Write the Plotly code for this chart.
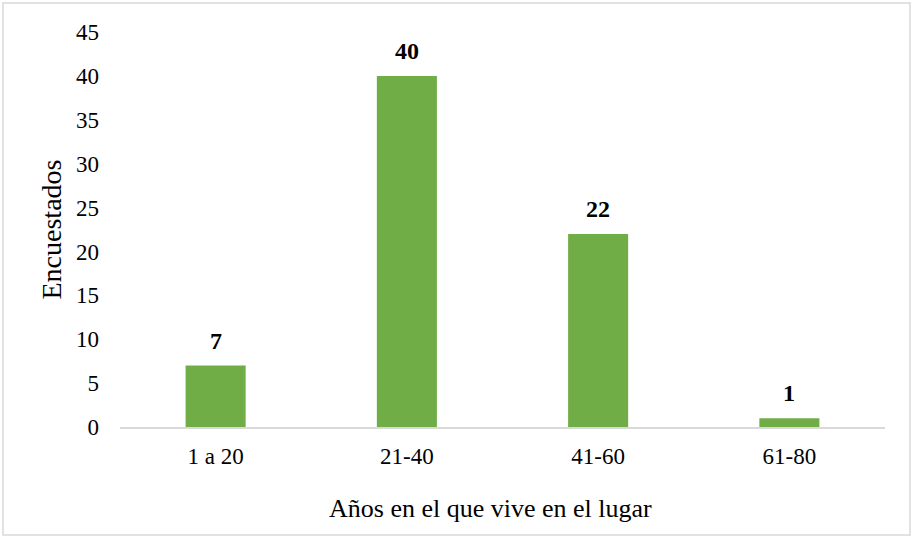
import plotly.graph_objects as go

# Datos
categorias = ["1 a 20", "21-40", "41-60", "61-80"]
encuestados = [7, 40, 22, 1]

FONT = "Liberation Serif, Times New Roman, serif"
W, H = 913, 538
M = dict(l=120, r=28, t=32, b=111)

fig = go.Figure()

fig.add_trace(go.Bar(
    x=categorias,
    y=encuestados,
    width=0.314,
    marker=dict(color="#70AD47", line=dict(width=0)),
    showlegend=False,
    hoverinfo="x+y",
))

# etiquetas de valor sobre las barras
for c, v in zip(categorias, encuestados):
    fig.add_annotation(
        x=c, y=v, text=f"<b>{v}</b>", showarrow=False,
        yanchor="bottom", yshift=10,
        font=dict(family=FONT, size=24, color="black"),
    )

pw = W - M["l"] - M["r"]
ph = H - M["t"] - M["b"]

# título del eje X (centrado como en el original, algo a la izquierda)
fig.add_annotation(
    text="Años en el que vive en el lugar", showarrow=False,
    xref="paper", yref="paper", x=(490 - M["l"]) / pw, y=-(M["b"] - 13) / ph,
    xanchor="center", yanchor="bottom",
    font=dict(family=FONT, size=26, color="black"),
)

# borde del área del gráfico
fig.add_shape(
    type="rect", xref="paper", yref="paper",
    x0=(3 - M["l"]) / pw, x1=(W - 3 - M["l"]) / pw,
    y0=-(M["b"] - 3) / ph, y1=(ph + M["t"] - 3) / ph,
    line=dict(color="#D9D9D9", width=1.5),
)

fig.update_layout(
    width=W,
    height=H,
    margin=M,
    plot_bgcolor="white",
    paper_bgcolor="white",
    font=dict(family=FONT, size=23, color="black"),
    xaxis=dict(
        showline=True,
        linecolor="#D9D9D9",
        linewidth=1.5,
        ticks="",
        showgrid=False,
        ticklabelstandoff=8,
        tickfont=dict(size=23),
    ),
    yaxis=dict(
        title=dict(text="Encuestados", standoff=6, font=dict(size=28)),
        range=[0, 45],
        dtick=5,
        showgrid=False,
        zeroline=False,
        showline=False,
        ticks="",
        ticklabelstandoff=20,
        tickfont=dict(size=23),
    ),
)

fig.write_html("out.html", config={"displayModeBar": False},
               post_script="document.body.style.margin='0';")
